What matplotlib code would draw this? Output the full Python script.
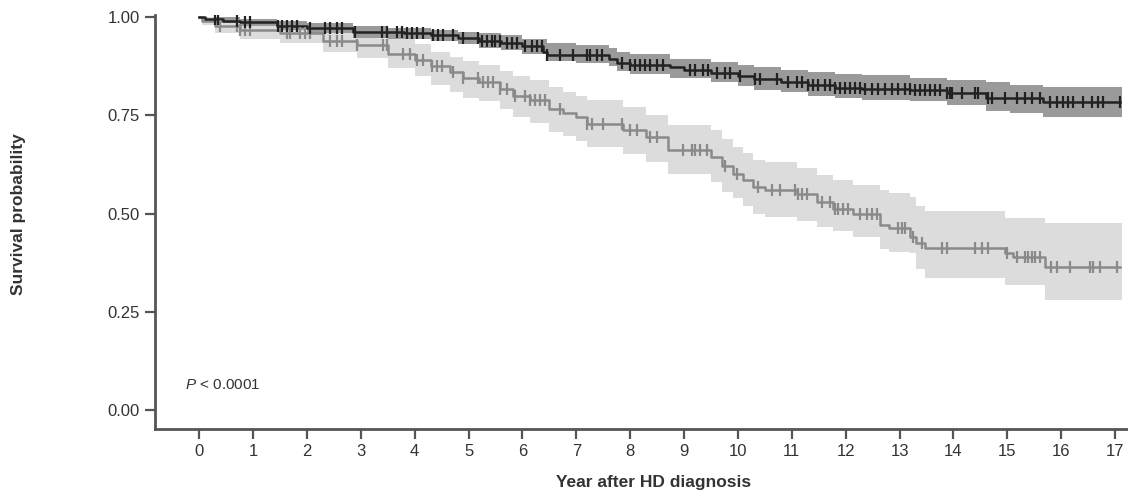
import numpy as np
import matplotlib
matplotlib.use("Agg")
import matplotlib.pyplot as plt

plt.rcParams['font.family'] = ['Liberation Sans', 'DejaVu Sans']
plt.rcParams['mathtext.fontset'] = 'custom'
plt.rcParams['mathtext.it'] = 'Liberation Sans:italic'
plt.rcParams['mathtext.rm'] = 'Liberation Sans'

# upper (dark) group: step times, survival, CI
up_t = [0, 0.1, 0.45, 0.75, 1.45, 2.0, 2.86, 3.8, 4.3, 4.8, 5.2, 5.6, 6.0, 6.38, 6.45,
        7.6, 7.75, 8.0, 8.74, 9.0, 9.5, 10.0, 10.3, 10.8, 11.3, 11.8, 12.3, 13.2,
        13.88, 14.6, 15.05, 15.66]
up_s = [1.0, 0.995, 0.99, 0.986, 0.978, 0.972, 0.962, 0.958, 0.953, 0.947, 0.94, 0.935,
        0.925, 0.91, 0.902, 0.893, 0.884, 0.877, 0.872, 0.865, 0.858, 0.85, 0.841, 0.835,
        0.828, 0.82, 0.816, 0.813, 0.806, 0.795, 0.793, 0.783]
up_ci_t = [0, 0.3, 0.75, 1.45, 2.0, 2.86, 3.5, 4.3, 4.8, 5.2, 5.6, 6.0, 6.45, 7.0, 7.6,
           7.75, 8.0, 8.74, 9.5, 10.0, 10.3, 10.8, 11.3, 11.8, 12.3, 13.2, 13.88, 14.6,
           15.05, 15.66]
up_hi = [1.0, 0.999, 0.996, 0.99, 0.985, 0.977, 0.973, 0.968, 0.963, 0.958, 0.953, 0.945,
         0.933, 0.928, 0.921, 0.912, 0.905, 0.894, 0.885, 0.878, 0.872, 0.866, 0.86,
         0.855, 0.852, 0.846, 0.839, 0.834, 0.828, 0.821]
up_lo = [1.0, 0.985, 0.976, 0.966, 0.96, 0.947, 0.943, 0.938, 0.93, 0.922, 0.915, 0.905,
         0.889, 0.883, 0.875, 0.862, 0.855, 0.846, 0.835, 0.825, 0.815, 0.808, 0.8,
         0.793, 0.79, 0.787, 0.775, 0.762, 0.757, 0.745]
up_cens = [0.30, 0.35, 0.71, 0.85, 0.95, 1.47, 1.54, 1.63, 1.73, 1.82, 2.06, 2.34, 2.43,
           2.56, 2.65, 2.89, 3.40, 3.49, 3.67, 3.77, 3.86, 3.95, 4.04, 4.16,
           4.34, 4.43, 4.53, 4.71, 4.90, 5.18, 5.25, 5.34, 5.44, 5.49, 5.58, 5.71, 5.81,
           5.90, 6.05, 6.18, 6.27, 6.36, 6.46, 6.70, 6.94, 7.20, 7.25, 7.38, 7.48, 7.85,
           8.00, 8.09, 8.18, 8.27, 8.37, 8.50, 8.61,
           9.11, 9.20, 9.35, 9.44, 9.61, 9.76, 9.85, 10.04, 10.32, 10.41, 10.72, 10.93,
           11.09, 11.19, 11.30, 11.39, 11.48, 11.61, 11.71, 11.80, 11.89, 11.99, 12.08,
           12.17, 12.26, 12.36, 12.49, 12.60, 12.73, 12.86, 12.97, 13.10,
           13.19, 13.28, 13.38, 13.47, 13.56, 13.65, 13.75, 13.88, 13.93, 13.97, 14.16,
           14.40, 14.45, 14.64, 14.71, 14.95, 15.18, 15.32, 15.45, 15.60, 15.79, 15.92,
           16.03, 16.12, 16.22, 16.40, 16.57, 16.68, 16.77, 17.09]

# lower (grey) group
lo_t = [0, 0.05, 0.3, 0.75, 1.5, 2.3, 2.93, 3.5, 4.0, 4.3, 4.66, 4.9, 5.2, 5.58, 5.83,
        6.14, 6.5, 6.75, 7.0, 7.2, 7.87, 8.3, 8.7, 9.5, 9.7, 9.9, 10.1, 10.28, 10.5,
        11.1, 11.47, 11.76, 12.13, 12.63, 12.8, 13.2, 13.3, 13.47, 14.95, 15.1, 15.7]
lo_s = [1.0, 0.99, 0.978, 0.966, 0.958, 0.94, 0.928, 0.907, 0.89, 0.876, 0.859, 0.846,
        0.834, 0.818, 0.8, 0.788, 0.767, 0.757, 0.745, 0.729, 0.712, 0.694, 0.661, 0.645,
        0.62, 0.6, 0.585, 0.567, 0.559, 0.549, 0.53, 0.512, 0.498, 0.47, 0.462, 0.44,
        0.424, 0.412, 0.399, 0.389, 0.363]
lo_ci_t = [0, 0.05, 0.3, 0.75, 1.5, 2.3, 2.93, 3.5, 4.0, 4.3, 4.66, 4.9, 5.2, 5.58, 5.83,
           6.14, 6.5, 6.75, 7.0, 7.2, 7.87, 8.3, 8.7, 9.5, 9.7, 9.9, 10.1, 10.28, 10.5,
           11.1, 11.47, 11.76, 12.13, 12.63, 12.8, 13.2, 13.3, 13.47, 14.95, 15.7]
lo_hi = [1.0, 1.0, 0.995, 0.99, 0.985, 0.972, 0.962, 0.945, 0.93, 0.91, 0.898, 0.888,
         0.877, 0.862, 0.85, 0.84, 0.822, 0.81, 0.8, 0.79, 0.77, 0.75, 0.725, 0.712,
         0.69, 0.67, 0.655, 0.637, 0.63, 0.615, 0.598, 0.585, 0.573, 0.559, 0.553, 0.541,
         0.52, 0.506, 0.488, 0.475]
lo_lo = [1.0, 0.98, 0.96, 0.945, 0.935, 0.91, 0.895, 0.87, 0.85, 0.826, 0.81, 0.795,
         0.785, 0.765, 0.745, 0.73, 0.708, 0.697, 0.685, 0.67, 0.652, 0.632, 0.6, 0.58,
         0.555, 0.54, 0.52, 0.5, 0.49, 0.48, 0.466, 0.455, 0.44, 0.41, 0.403, 0.399,
         0.36, 0.335, 0.318, 0.28]
lo_cens = [0.39, 0.71, 0.76, 0.85, 0.95, 1.63, 1.69, 1.87, 1.97, 2.06, 2.43, 2.56, 2.65,
           2.93, 3.41, 3.49, 3.78, 3.91, 4.04, 4.16,
           4.32, 4.42, 4.51, 4.71, 4.90, 5.18, 5.27, 5.36, 5.45, 5.58, 5.71, 5.86, 6.05,
           6.14, 6.23, 6.33, 6.42, 6.70, 7.20, 7.29, 7.50, 7.85, 8.00, 8.13, 8.37, 8.50,
           8.98, 9.15, 9.20, 9.29, 9.42, 9.76, 9.98, 10.37, 10.63, 10.78, 11.06, 11.11,
           11.19, 11.28, 11.56, 11.71, 11.80, 11.86, 11.95, 12.04, 12.26, 12.39, 12.49,
           12.58, 12.97, 13.04, 13.10, 13.25, 13.41, 13.78, 13.88, 14.40, 14.53, 14.64,
           14.99, 15.18, 15.32, 15.38, 15.45, 15.51, 15.60, 15.82, 15.92, 16.16, 16.53,
           16.59, 16.72, 17.03]

t_end = 17.1
x_ticks = list(range(0, 18))
y_ticks = [0.0, 0.25, 0.5, 0.75, 1.0]
y_labels = ['0.00', '0.25', '0.50', '0.75', '1.00']


def step_at(t, s, c):
    t = np.asarray(t)
    s = np.asarray(s)
    idx = np.searchsorted(t, c, side='right') - 1
    return s[idx]


def draw_group(ax, t, s, ci_t, hi, lo, cens, line_col, band_col):
    tt = list(t) + [t_end]
    ss = list(s) + [s[-1]]
    ct = list(ci_t) + [t_end + 0.03]
    ax.fill_between(ct, list(lo) + [lo[-1]], list(hi) + [hi[-1]], step='post',
                    color=band_col, lw=0, zorder=1)
    ax.step(tt, ss, where='post', color=line_col, lw=1.8, zorder=3)
    cy = step_at(t, s, np.asarray(cens))
    ax.plot(cens, cy, ls='none', marker='|', ms=8, mew=1.6, color=line_col, zorder=4)


fig = plt.figure(figsize=(11.28, 4.92), dpi=100)
ax = fig.add_axes([155 / 1128, 63 / 492, 1 - 155 / 1128, (429 - 15) / 492])

draw_group(ax, lo_t, lo_s, lo_ci_t, lo_hi, lo_lo, lo_cens, '#8a8a8a', '#dcdcdc')
draw_group(ax, up_t, up_s, up_ci_t, up_hi, up_lo, up_cens, '#222222', '#9a9a9a')

ax.set_xlim(-0.82, 17.24)
ax.set_ylim(-0.048, 1.005)
ax.set_xticks(x_ticks)
ax.set_yticks(y_ticks)
ax.set_yticklabels(y_labels)
for side in ['top', 'right']:
    ax.spines[side].set_visible(False)
for side in ['left', 'bottom']:
    ax.spines[side].set_color('#555555')
    ax.spines[side].set_linewidth(2)
ax.tick_params(axis='both', colors='#555555', width=1.6, length=7, labelsize=12,
               labelcolor='#333333', pad=4)

ax.text(-0.26, 0.064, r'$P$ < 0.0001', fontsize=11, color='#333333', va='center')

fig.text(19 / 1128, 1 - 214 / 492, 'Survival probability', rotation=90, fontsize=12.5,
         fontweight='bold', color='#333333', ha='center', va='center')
fig.text(654 / 1128, 1 - 482 / 492, 'Year after HD diagnosis', fontsize=12.5,
         fontweight='bold', color='#333333', ha='center', va='center')

fig.savefig('out.png', dpi=100)
